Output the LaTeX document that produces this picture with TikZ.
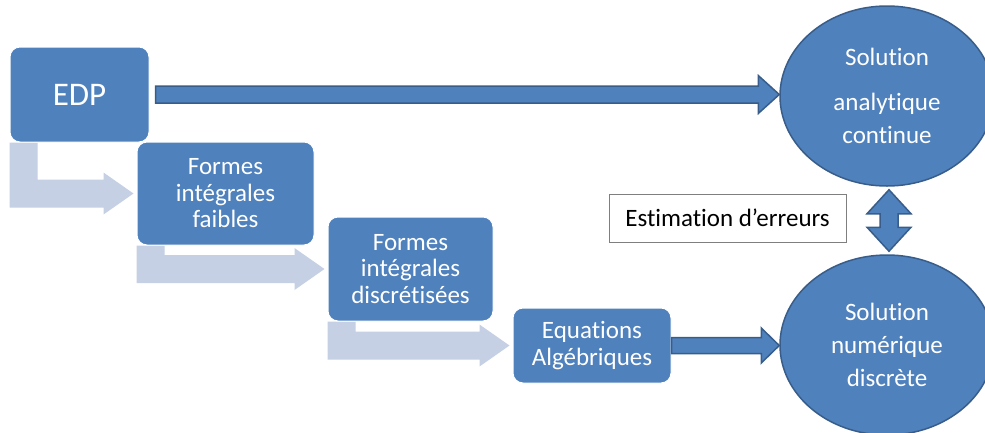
\documentclass[tikz,border=0pt]{standalone}
\usepackage{fontspec}
\setmainfont{Carlito}[Ligatures=NoCommon]
\usepackage{tikz}
\usetikzlibrary{shapes.geometric, calc, backgrounds}
\definecolor{edpblue}{HTML}{4F81BD}
\definecolor{edpdark}{HTML}{385D8A}
\definecolor{edplight}{HTML}{C5D0E4}
\definecolor{edpgray}{HTML}{7F7F7F}
\newcommand{\fatH}[5]{% from, to, shaft half, head half, head length  (horizontal)
  \draw[edpdark, line width=1.5pt, fill=edpblue, line join=miter]
    let \p1=(#1), \p2=(#2) in
    (\x1,\y1+#3) -- (\x2-#5,\y1+#3) -- (\x2-#5,\y1+#4) -- (\x2,\y1)
    -- (\x2-#5,\y1-#4) -- (\x2-#5,\y1-#3) -- (\x1,\y1-#3) -- cycle;
}
\newcommand{\fatV}[5]{% top, bottom, shaft half, head half, head length  (double, vertical)
  \draw[edpdark, line width=1.5pt, fill=edpblue, line join=miter]
    let \p1=(#1), \p2=(#2) in
    (\x1,\y1) -- (\x1+#4,\y1-#5) -- (\x1+#3,\y1-#5) -- (\x1+#3,\y2+#5)
    -- (\x1+#4,\y2+#5) -- (\x1,\y2) -- (\x1-#4,\y2+#5) -- (\x1-#3,\y2+#5)
    -- (\x1-#3,\y1-#5) -- (\x1-#4,\y1-#5) -- cycle;
}
\newcommand{\bentarrow}[2]{% from box, to box  (light L-shaped arrow)
  \fill[edplight] let \p1=(#1.south west), \p2=(#2.west) in
    (\x1,\y1) -- (\x1,\y2-14pt) -- (\x2-33pt,\y2-14pt) -- (\x2-33pt,\y2-21pt)
    -- (\x2-3pt,\y2) -- (\x2-33pt,\y2+21pt) -- (\x2-33pt,\y2+14pt)
    -- (\x1+28pt,\y2+14pt) -- (\x1+28pt,\y1) -- cycle;
}

\begin{document}
\begin{tikzpicture}[x=1pt, y=-1pt,
  box/.style={rounded corners=10pt, fill=edpblue, draw=white, line width=1pt,
    text=white, align=center, inner sep=0pt, font=\fontsize{25}{26.5}\selectfont},
  sol/.style={ellipse, fill=edpblue, draw=edpdark, line width=1.5pt, text=white,
    align=center, inner sep=0pt, minimum width=214, minimum height=180,
    font=\fontsize{25}{33}\selectfont}]
  \useasboundingbox (0,0) rectangle (985,432);

  \node[box, minimum width=139, minimum height=95,
    font=\fontsize{33}{38}\selectfont] (edp) at (79.5,94.5) {EDP};
  \node[box, minimum width=177, minimum height=103] (faibles) at (225.5,193.5)
    {Formes\\intégrales\\faibles};
  \node[box, minimum width=165, minimum height=104] (discr) at (410.5,269)
    {Formes\\intégrales\\discrétisées};
  \node[box, minimum width=158, minimum height=75] (alg) at (592,345.5)
    {Equations\\Algébriques};

  \node[sol] (analytique) at (887,96) {Solution\\[12pt]analytique\\continue};
  \node[sol] (numerique) at (887,345) {Solution\\numérique\\discrète};

  \node[draw=edpgray, line width=0.8pt, minimum width=237, minimum height=48,
    inner sep=0pt, font=\fontsize{25}{28}\selectfont] (erreurs) at (727.5,218)
    {Estimation d’erreurs};

  % light steps behind the boxes
  \begin{scope}[on background layer]
    \bentarrow{edp}{faibles}
    \bentarrow{faibles}{discr}
    \bentarrow{discr}{alg}
  \end{scope}

  \fatH{$(edp.east)+(6,0)$}{analytique.west}{8.5pt}{19pt}{21pt}
  \fatH{alg.east}{numerique.west}{8pt}{17.5pt}{18pt}
  \fatV{$(analytique.south)+(2,3)$}{$(numerique.north)+(2,-3)$}{9pt}{22pt}{24pt}
\end{tikzpicture}
\end{document}
